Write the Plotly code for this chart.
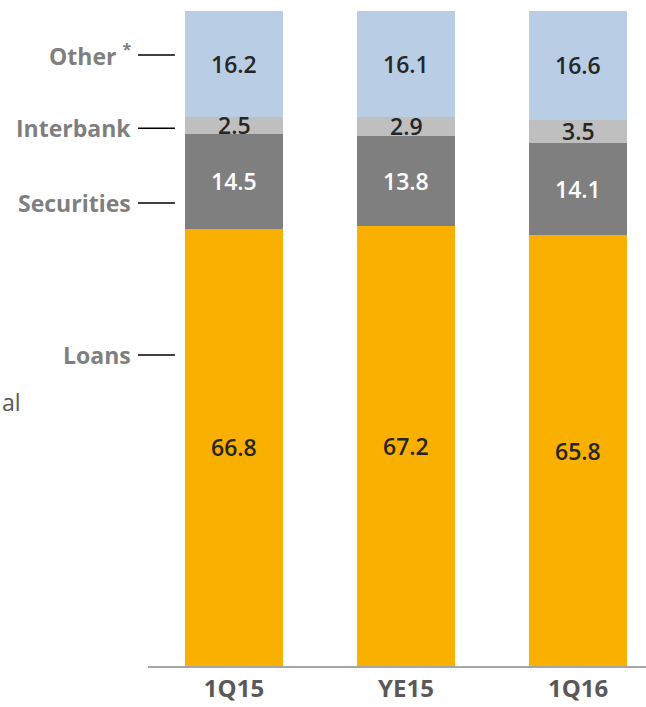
import plotly.graph_objects as go
import numpy as np

categories = ["1Q15", "YE15", "1Q16"]
loans = [66.8, 67.2, 65.8]
securities = [14.5, 13.8, 14.1]
interbank = [2.5, 2.9, 3.5]
other = [16.2, 16.1, 16.6]

series_names = ["Loans", "Securities", "Interbank", "Other"]
series_vals = [loans, securities, interbank, other]
series_colors = ["#fab000", "#7f7f7f", "#bfbfbf", "#b9cde5"]
text_colors = ["#262626", "#ffffff", "#262626", "#262626"]

side_labels = ["Other <sup>*</sup>", "Interbank", "Securities", "Loans"]
side_label_y = [93.3, 82.1, 70.7, 47.5]

fig = go.Figure()
for name, vals, col in zip(series_names, series_vals, series_colors):
    fig.add_trace(go.Bar(x=categories, y=vals, name=name, marker_color=col,
                         marker_line_width=0, hoverinfo="skip"))

annotations = []
base = np.zeros(len(categories))
for vals, tc in zip(series_vals, text_colors):
    v = np.array(vals)
    mids = base + v / 2
    for c, m, val in zip(categories, mids, vals):
        annotations.append(dict(x=c, y=m, xref="x", yref="y", text=f"{val:.1f}",
                                showarrow=False,
                                font=dict(family="Open Sans", size=23, color=tc, weight=600)))
    base = base + v

shapes = []
for lab, yv in zip(side_labels, side_label_y):
    annotations.append(dict(x=-0.030, y=yv, xref="paper", yref="y", text=lab,
                            xanchor="right", yanchor="middle", showarrow=False,
                            font=dict(family="Open Sans", size=23, color="#7f7f7f", weight=700)))
    shapes.append(dict(type="line", xref="paper", yref="y", x0=-0.020, x1=0.054,
                       y0=yv, y1=yv, line=dict(color="#000000", width=1.5)))

annotations.append(dict(x=-0.297, y=40.3, xref="paper", yref="y", text="al",
                        xanchor="left", yanchor="middle", showarrow=False,
                        font=dict(family="Open Sans", size=23, color="#595959", weight=500)))

fig.update_layout(
    barmode="stack",
    bargap=0.43,
    width=646, height=707,
    margin=dict(l=148, r=0, t=0, b=41),
    paper_bgcolor="white", plot_bgcolor="white",
    showlegend=False,
    annotations=annotations,
    shapes=shapes,
    xaxis=dict(range=[-0.5, 2.395], showgrid=False, showline=True, linecolor="#a6a6a6",
               linewidth=2, ticks="", tickfont=dict(family="Open Sans", size=24, color="#595959", weight=700),
               fixedrange=True),
    yaxis=dict(range=[0, 101.7], showgrid=False, showticklabels=False, zeroline=False,
               showline=False, fixedrange=True),
)

fig.write_html("out.html", config={"displayModeBar": False},
               post_script="document.body.style.margin='0';document.body.style.overflow='hidden';")
